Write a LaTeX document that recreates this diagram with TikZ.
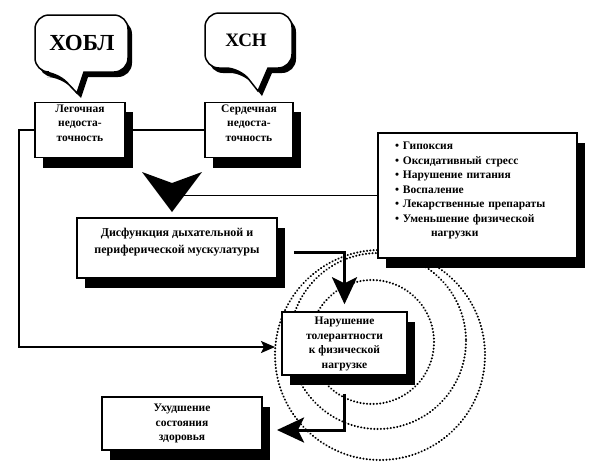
\documentclass[tikz,border=0pt]{standalone}
\usepackage{fontspec}
\setmainfont{Liberation Serif}
\usetikzlibrary{arrows.meta,shadows}
\begin{document}
\begin{tikzpicture}[x=1pt, y=-1pt,
  box/.style={draw, line width=1.5pt, fill=white, align=center, inner sep=2pt,
    font=\bfseries\fontsize{11.5}{14.5}\selectfont,
    drop shadow={shadow xshift=8pt, shadow yshift=-10pt, fill=black, opacity=1}},
  bubble/.style={draw, line width=1.5pt, fill=white,
    drop shadow={shadow xshift=4pt, shadow yshift=-5pt, fill=black, opacity=1}},
  dots/.style={line width=2.2pt, dash pattern=on 0.1pt off 3.2pt, line cap=round},
  bigline/.style={line width=3pt, -{Stealth[length=27pt, width=25pt, inset=6pt]}},
  thinline/.style={line width=1.5pt}]
\useasboundingbox (0,0) rectangle (597,472);
\draw[dots] (380,355) circle[radius=105];
\draw[dots] (378,341) circle[radius=88];
\draw[dots] (372,342) circle[radius=62];
\draw[bubble] (77,93) -- (84,72) [rounded corners=14pt] -- (128,72) -- (128,15) -- (35,15) -- (35,72) -- (57,72) [sharp corners] -- cycle;
\draw[bubble] (258,91) -- (268,68) [rounded corners=14pt] -- (292,68) -- (292,13) -- (205,13) -- (205,68) -- (240,68) [sharp corners] -- cycle;
\node[font=\bfseries\fontsize{23}{23}\selectfont] (copd) at (82,43) {ХОБЛ};
\node[font=\bfseries\fontsize{19}{19}\selectfont] (chf) at (246,40) {ХСН};
\node[box, minimum width=90pt, minimum height=54pt] (lung) at (80,130) {Легочная\\недоста-\\точность\\\mbox{}};
\node[box, minimum width=88pt, minimum height=54pt] (heart) at (249,130) {Сердечная\\недоста-\\точность\\\mbox{}};
\node[box, minimum width=199pt, minimum height=125pt, text width=165pt, align=left] (factors) at (477.5,195.5)
  {\textbullet~Гипоксия\\ \textbullet~Оксидативный стресс\\ \textbullet~Нарушение питания\\ \textbullet~Воспаление\\
   \textbullet~Лекарственные препараты\\ \textbullet~Уменьшение физической\\ \hspace*{36pt}нагрузки\\[-2.5pt]\mbox{}};
\node[box, minimum width=200pt, minimum height=60pt, font=\bfseries\fontsize{12}{17}\selectfont] (dysf) at (177,248) {Дисфункция дыхательной и\\периферической мускулатуры\\[-3pt]\mbox{}};
\node[box, minimum width=125pt, minimum height=63pt] (tol) at (344.5,343.5) {\mbox{}\\[-6.5pt]Нарушение\\толерантности\\к физической\\нагрузке};
\node[box, minimum width=160pt, minimum height=53pt] (worse) at (182,423.5) {\mbox{}\\[-6.5pt]Ухудшение\\состояния\\здоровья};
\coordinate (merge) at (172,192);
\coordinate (entry) at (275,347);
\coordinate (exit) at (277,430);
\draw[thinline] (lung.east) -- (heart.west);
\draw[thinline] (factors.west) -- (factors.west -| merge);
\fill (142,172) -- (172,183) -- (202,172) -- (172,212) -- cycle;
\draw[line width=2pt, -{Stealth[length=14pt, width=12pt, inset=3pt]}] (lung.west) -- ++(-15,0) |- (entry);
\draw[bigline] ([xshift=16pt, yshift=-4pt]dysf.east) -| ([yshift=7pt]tol.north);
\draw[bigline, shorten <=18pt] (tol.south) |- (exit);
\end{tikzpicture}
\end{document}
